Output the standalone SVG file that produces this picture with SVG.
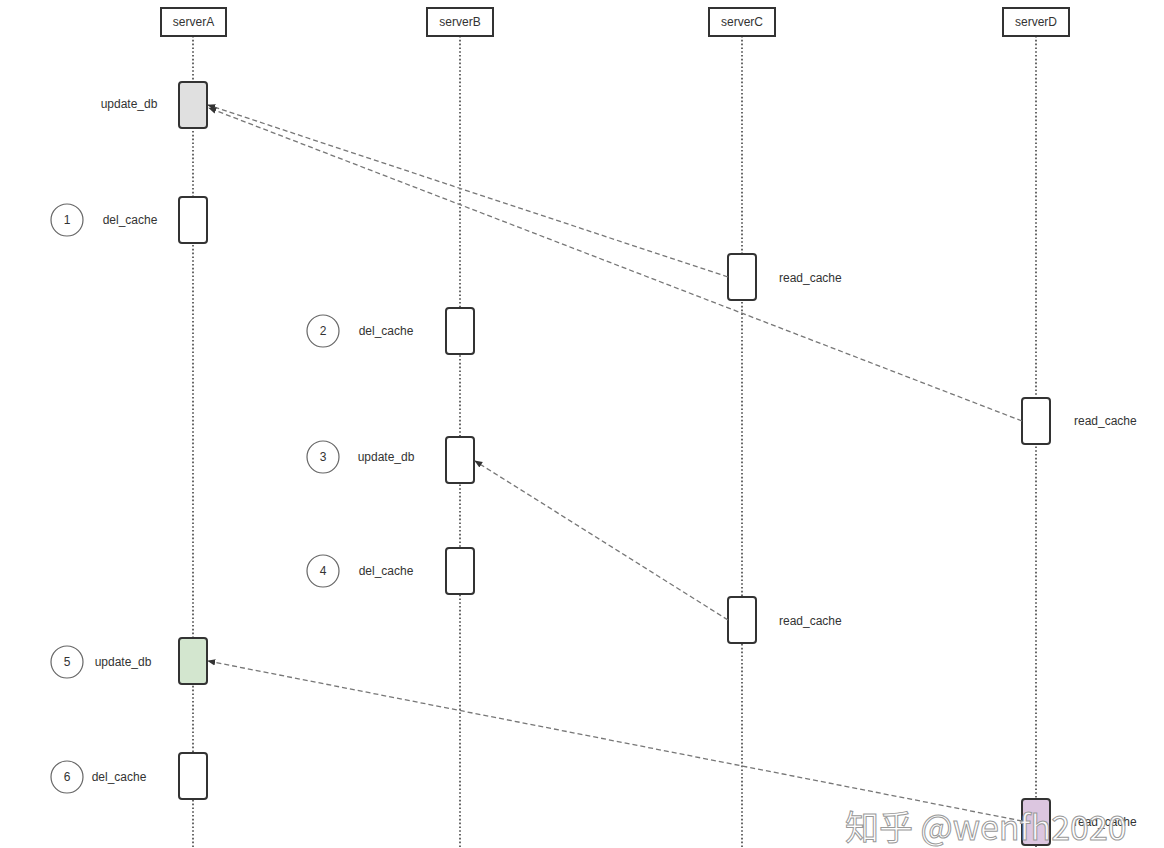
<svg xmlns="http://www.w3.org/2000/svg" width="1164" height="848" viewBox="0 0 1164 848">
<style>
.bg{fill:#ffffff}
.head rect{fill:#fff;stroke:#333;stroke-width:2}
.head text,.lbl{font-family:"Liberation Sans",Arial,sans-serif;font-size:12px;fill:#333}
.life{stroke:#444;stroke-width:1.6;stroke-dasharray:1.6 2.2;fill:none}
.act{fill:#fff;stroke:#333;stroke-width:2}
.num circle{fill:#fff;stroke:#666;stroke-width:1.2}
.num text{font-family:"Liberation Sans",Arial,sans-serif;font-size:12px;fill:#333;text-anchor:middle}
.msg{stroke:#777;stroke-width:1.3;stroke-dasharray:5 3;fill:none;marker-end:url(#arr)}
.wm{font-family:"Noto Sans CJK SC","Liberation Sans",sans-serif;font-size:34px;fill:#fff;fill-opacity:0.85;stroke:#999;stroke-width:1}
</style>
<defs>
<marker id="arr" viewBox="0 0 10 10" refX="9" refY="5" markerWidth="8" markerHeight="8" markerUnits="userSpaceOnUse" orient="auto">
<path d="M0,1 L10,5 L0,9 z" fill="#333"/>
</marker>
</defs>
<rect class="bg" x="0" y="0" width="1164" height="848"/>

<g id="lifelines">
<line class="life" x1="193" y1="36" x2="193" y2="848"/>
<line class="life" x1="460" y1="36" x2="460" y2="848"/>
<line class="life" x1="742" y1="36" x2="742" y2="848"/>
<line class="life" x1="1036" y1="36" x2="1036" y2="848"/>
</g>

<g id="serverA" class="head"><rect x="161" y="8" width="65" height="28"/><text x="193.5" y="26" text-anchor="middle">serverA</text></g>
<g id="serverB" class="head"><rect x="427" y="8" width="66" height="28"/><text x="460" y="26" text-anchor="middle">serverB</text></g>
<g id="serverC" class="head"><rect x="709" y="8" width="66" height="28"/><text x="742" y="26" text-anchor="middle">serverC</text></g>
<g id="serverD" class="head"><rect x="1003" y="8" width="66" height="28"/><text x="1036" y="26" text-anchor="middle">serverD</text></g>

<g id="a-update-db"><rect class="act" x="179" y="82" width="28" height="46" rx="3" style="fill:#e0e0e0"/><text class="lbl" x="129" y="108" text-anchor="middle">update_db</text></g>
<g id="a-del-cache-1"><rect class="act" x="179" y="197" width="28" height="46" rx="3"/><g class="num"><circle cx="67" cy="220" r="16"/><text x="67" y="224">1</text></g><text class="lbl" x="130" y="224" text-anchor="middle">del_cache</text></g>
<g id="c-read-cache-1"><rect class="act" x="728" y="254" width="28" height="46" rx="3"/><text class="lbl" x="779" y="282">read_cache</text></g>
<g id="b-del-cache-2"><rect class="act" x="446" y="308" width="28" height="46" rx="3"/><g class="num"><circle cx="323" cy="331" r="16"/><text x="323" y="335">2</text></g><text class="lbl" x="386" y="335" text-anchor="middle">del_cache</text></g>
<g id="d-read-cache-1"><rect class="act" x="1022" y="398" width="28" height="46" rx="3"/><text class="lbl" x="1074" y="425">read_cache</text></g>
<g id="b-update-db-3"><rect class="act" x="446" y="437" width="28" height="46" rx="3"/><g class="num"><circle cx="323" cy="457" r="16"/><text x="323" y="461">3</text></g><text class="lbl" x="386" y="461" text-anchor="middle">update_db</text></g>
<g id="b-del-cache-4"><rect class="act" x="446" y="548" width="28" height="46" rx="3"/><g class="num"><circle cx="323" cy="571" r="16"/><text x="323" y="575">4</text></g><text class="lbl" x="386" y="575" text-anchor="middle">del_cache</text></g>
<g id="c-read-cache-2"><rect class="act" x="728" y="597" width="28" height="46" rx="3"/><text class="lbl" x="779" y="625">read_cache</text></g>
<g id="a-update-db-5"><rect class="act" x="179" y="638" width="28" height="46" rx="3" style="fill:#d3e6cf"/><g class="num"><circle cx="67" cy="662" r="16"/><text x="67" y="666">5</text></g><text class="lbl" x="123" y="666" text-anchor="middle">update_db</text></g>
<g id="a-del-cache-6"><rect class="act" x="179" y="753" width="28" height="46" rx="3"/><g class="num"><circle cx="67" cy="777" r="16"/><text x="67" y="781">6</text></g><text class="lbl" x="119" y="781" text-anchor="middle">del_cache</text></g>
<g id="d-read-cache-2"><rect class="act" x="1022" y="799" width="28" height="46" rx="3" style="fill:#dcc6e0"/><text class="lbl" x="1074" y="826">read_cache</text></g>

<g id="connectors">
<line class="msg" x1="728" y1="277" x2="208" y2="105"/>
<line class="msg" x1="1022" y1="421" x2="209" y2="108"/>
<line class="msg" x1="728" y1="620" x2="475" y2="461"/>
<line class="msg" x1="1022" y1="821" x2="208" y2="661"/>
</g>

<text class="wm" x="845" y="840">知乎 @wenfh2020</text>
</svg>
